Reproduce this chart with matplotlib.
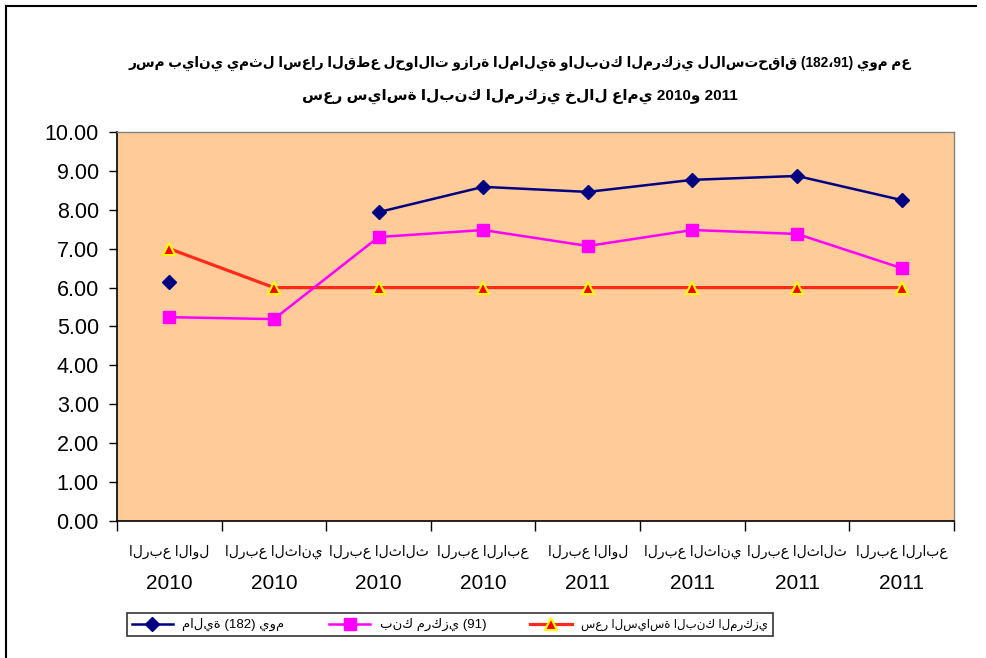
import numpy as np
import matplotlib
matplotlib.use("Agg")
from matplotlib import pyplot as plt
from matplotlib.lines import Line2D

plt.rcParams['font.family'] = ['Liberation Sans', 'DejaVu Sans']

# Data
quarters = ['الربع الاول', 'الربع الثاني', 'الربع الثالث', 'الربع الرابع',
            'الربع الاول', 'الربع الثاني', 'الربع الثالث', 'الربع الرابع']
years = ['2010', '2010', '2010', '2010', '2011', '2011', '2011', '2011']
rate_182 = [6.15, np.nan, 7.94, 8.59, 8.46, 8.77, 8.87, 8.25]
rate_91 = [5.24, 5.19, 7.30, 7.48, 7.07, 7.48, 7.38, 6.50]
policy_rate = [7.0, 6.0, 6.0, 6.0, 6.0, 6.0, 6.0, 6.0]
series_labels = ['مالية (182) يوم', 'بنك مركزي (91)', 'سعر السياسة البنك المركزي']
title_1 = 'رسم بياني يمثل اسعار القطع لحوالات وزارة المالية والبنك المركزي للاستحقاق (182،91) يوم مع'
title_2 = 'سعر سياسة البنك المركزي خلال عامي 2010و 2011'

fig = plt.figure(figsize=(9.86, 6.58), dpi=100)
ax = fig.add_axes([0.1187, 0.2082, 0.8488, 0.5912])
ax.set_facecolor('#FFCC99')

x = np.arange(len(quarters))
ax.plot(x, rate_182, color='#000080', lw=1.8, marker='D', ms=7,
        mfc='#000080', mec='#000080', label=series_labels[0], zorder=4)
ax.plot(x, rate_91, color='#FF00FF', lw=1.8, marker='s', ms=8,
        mfc='#FF00FF', mec='#FF00FF', label=series_labels[1], zorder=3)
ax.plot(x, policy_rate, color='#FF2A1A', lw=2.3, marker='^', ms=8,
        mfc='#FF0000', mec='#FFFF00', mew=1.5, label=series_labels[2], zorder=2)

ax.set_xlim(-0.5, len(quarters) - 0.5)
ax.set_ylim(0, 10)
ax.set_yticks(np.arange(0, 10.01, 1))
ax.set_yticklabels(['%.2f' % v for v in np.arange(0, 10.01, 1)], fontsize=15.5)
ax.set_xticks(np.arange(-0.5, len(quarters), 1))
ax.set_xticklabels([])
ax.set_xticks(x, minor=True)
ax.set_xticklabels(quarters, minor=True, fontsize=10)
ax.tick_params(axis='x', which='minor', length=0, pad=17)
ax.tick_params(axis='x', which='major', length=7, width=1, direction='out')
ax.tick_params(axis='y', length=6, width=1, direction='out', pad=7)

# year line under each quarter label
for xi, yr in zip(x, years):
    ax.text(xi, -0.16, yr, transform=ax.get_xaxis_transform(), ha='center', va='center',
            fontsize=15)

for s in ['top', 'right']:
    ax.spines[s].set_color('#808080')
    ax.spines[s].set_linewidth(1)
for s in ['left', 'bottom']:
    ax.spines[s].set_color('black')
    ax.spines[s].set_linewidth(1.2)

fig.text(0.527, 0.903, title_1, ha='center', va='center', fontsize=9.8, fontweight='bold')
fig.text(0.527, 0.853, title_2, ha='center', va='center', fontsize=11, fontweight='bold')

leg = fig.legend(loc='center', bbox_to_anchor=(0.1288, 0.017, 0.655, 0.067),
                 mode='expand', ncol=3, fontsize=8.5, frameon=True, fancybox=False,
                 edgecolor='black', numpoints=1, handlelength=3.5, borderaxespad=0)
leg.get_frame().set_linewidth(1.2)
leg.get_texts()[0].set_fontsize(9.5)
leg.get_texts()[1].set_fontsize(9.5)

# outer chart frame (left and top edges)
fig.add_artist(Line2D([6 / 986, 6 / 986], [0, 1 - 6 / 658], color='black', lw=1.5,
                      transform=fig.transFigure))
fig.add_artist(Line2D([6 / 986, 976 / 986], [1 - 6 / 658, 1 - 6 / 658], color='black', lw=1.5,
                      transform=fig.transFigure))

fig.savefig('out.png', dpi=100)
